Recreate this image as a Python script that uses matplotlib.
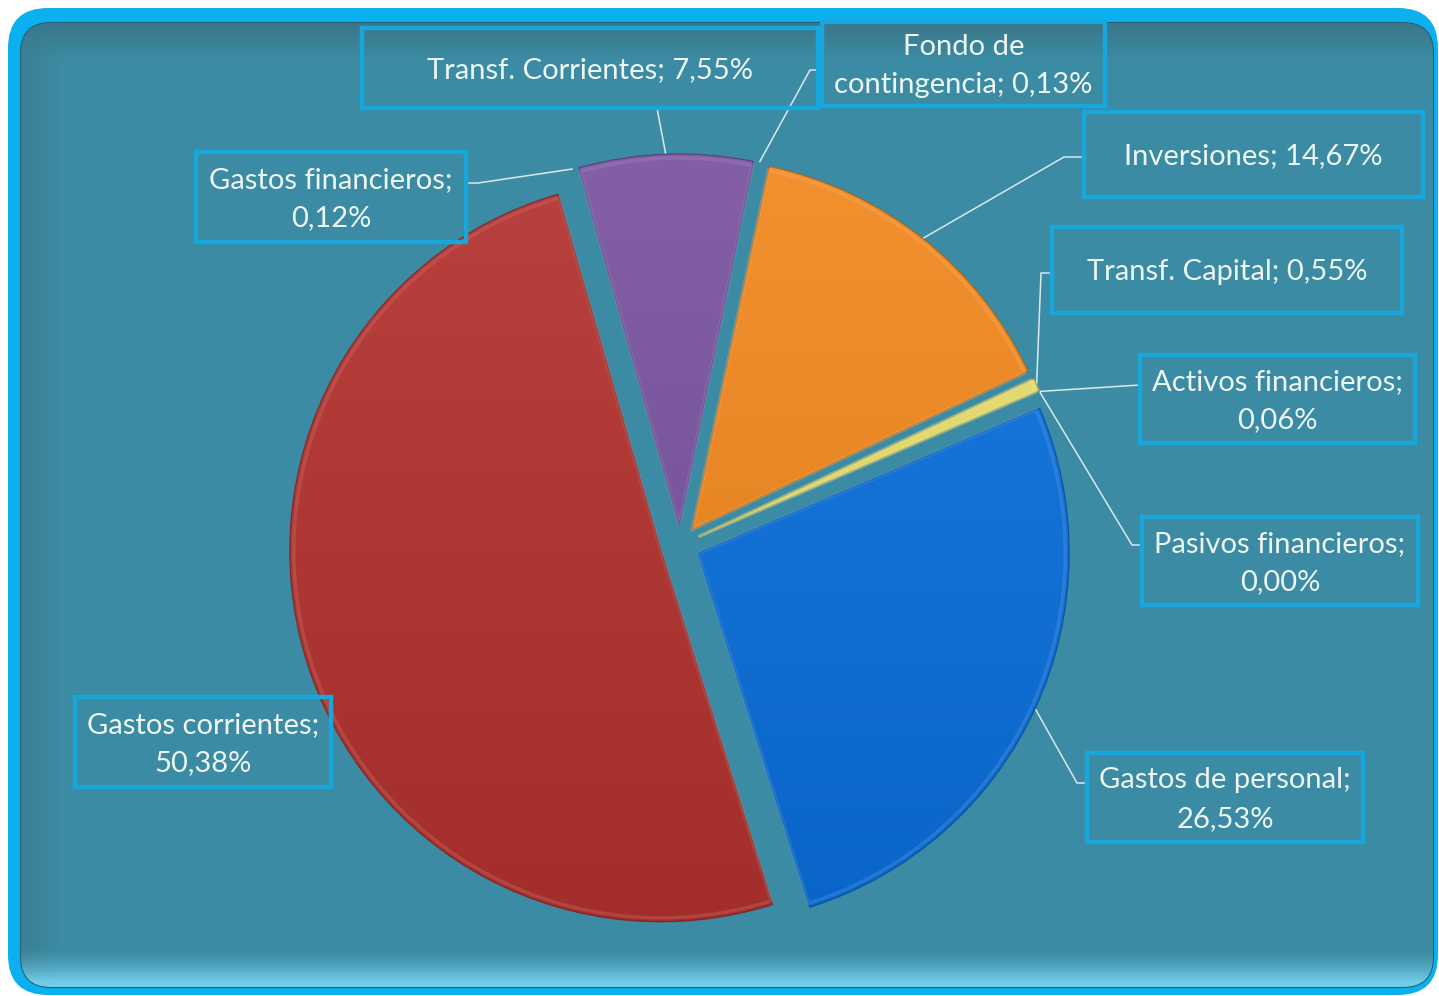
#!usr/bin/env python3

'''
Pie chart of the budget split by chapter (Spanish municipal budget),
drawn on a teal card with cyan rounded border, like the Excel original
'''

import numpy as np
import matplotlib
matplotlib.use('Agg')
import matplotlib.pyplot as plt
from matplotlib.patches import FancyBboxPatch, Wedge
from matplotlib.colors import to_rgb

W, H = 1439, 996

CATEGORIES = ['Gastos de personal', 'Pasivos financieros', 'Activos financieros',
              'Transf. Capital', 'Inversiones', 'Fondo de contingencia',
              'Transf. Corrientes', 'Gastos financieros', 'Gastos corrientes']
VALUES = [26.53, 0.00, 0.06, 0.55, 14.67, 0.13, 7.55, 0.12, 50.38]
# the hair-thin slices don't show in the original, so leave them unfilled
COLORS = ['#0a6fdc', 'none', 'none', '#e8de6c', '#f2881f',
          'none', '#7a53a1', 'none', '#b3322f']

# label layout in pixel coords: box (x0, y0, x1, y1), where to break the
# text, point on the box where the leader starts, optional elbow
LAYOUT = {
    'Transf. Corrientes': ((362, 28, 818, 108), None, (657, 108), None),
    'Fondo de contingencia': ((822, 22, 1105, 106), 'Fondo de', (822, 70), (810, 70)),
    'Inversiones': ((1084, 112, 1423, 197), None, (1084, 157), (1064, 157)),
    'Transf. Capital': ((1052, 227, 1402, 313), None, (1052, 273), (1041, 273)),
    'Activos financieros': ((1140, 355, 1415, 443), ';', (1140, 385), None),
    'Pasivos financieros': ((1142, 517, 1418, 605), ';', (1142, 545), (1132, 545)),
    'Gastos de personal': ((1087, 753, 1363, 842), ';', (1087, 783), (1077, 783)),
    'Gastos corrientes': ((75, 697, 331, 787), ';', None, None),
    'Gastos financieros': ((196, 152, 466, 242), ';', (466, 183), (478, 183)),
}

PIE_CENTER = (680, 545)
RADIUS = 371
START = -72.5
FONT = 'Lato'
TEXT_COLOR = '#eef6f3'


def dy(y):
    '''pixel row -> data y (axes run upwards)'''
    return H - y


def blend(c, other, t):
    c = np.array(to_rgb(c))
    return c + (np.array(to_rgb(other)) - c) * t


def draw_card(ax):
    '''the cyan rounded frame and the shaded teal panel inside it'''
    outer = FancyBboxPatch((8, dy(995)), 1430, 987,
                           boxstyle='round,pad=0,rounding_size=40',
                           fc='#0cb0ee', ec='none', zorder=0)
    ax.add_patch(outer)
    x0, x1, y0, y1 = 21, 1433, 23, 987
    inner = FancyBboxPatch((x0, dy(y1)), x1 - x0, y1 - y0,
                           boxstyle='round,pad=0,rounding_size=30',
                           fc='#3a8ba3', ec='#23607a', lw=1.5, zorder=1)
    ax.add_patch(inner)
    # vertical/horizontal shading of the panel
    rows, cols = y1 - y0, x1 - x0
    img = np.ones((rows, cols, 3)) * np.array(to_rgb('#3a8ba3'))
    yy = np.arange(rows)[:, None]
    xx = np.arange(cols)[None, :]
    top = np.clip(1 - yy / 35.0, 0, 1)[..., None]
    img = img + (np.array(to_rgb('#3c7486')) - img) * top * 0.9
    left = np.clip(1 - xx / 40.0, 0, 1)[..., None]
    img = img + (np.array(to_rgb('#3b7a8e')) - img) * left * 0.6
    bot = np.clip((yy - (rows - 40)) / 34.0, 0, 1)[..., None]
    img = img + (np.array(to_rgb('#72cce6')) - img) * bot ** 1.5
    im = ax.imshow(img, extent=(x0, x1, dy(y1), dy(y0)), origin='upper',
                   zorder=1.5, interpolation='bilinear')
    im.set_clip_path(inner)


def draw_pie(ax):
    explode = [0.054 * RADIUS] * len(VALUES)
    wedges, _ = ax.pie(VALUES, colors=COLORS, startangle=START,
                       counterclock=True, radius=RADIUS, explode=explode,
                       center=(PIE_CENTER[0], dy(PIE_CENTER[1])),
                       wedgeprops=dict(linewidth=0), frame=True)
    for w, col in zip(wedges, COLORS):
        w.set_zorder(3)
        if col == 'none':
            continue
        cx, cy = w.center
        # soft top-to-bottom gradient, clipped to the slice
        n = 200
        t = np.linspace(0, 1, n)[:, None]
        light = blend(col, 'white', 0.07)
        dark = blend(col, 'black', 0.09)
        grad = light + (dark - light) * t
        grad = np.repeat(grad[:, None, :], 2, axis=1)
        im = ax.imshow(grad, extent=(cx - RADIUS, cx + RADIUS,
                                     cy - RADIUS, cy + RADIUS),
                       origin='upper', zorder=3, interpolation='bilinear',
                       aspect='auto')
        im.set_clip_path(w)
        edge = Wedge((cx, cy), RADIUS, w.theta1, w.theta2, fill=False,
                     ec=blend(col, 'black', 0.3), lw=0.9, alpha=0.8, zorder=4)
        ax.add_patch(edge)
        hi = Wedge((cx, cy), RADIUS - 4, w.theta1, w.theta2, fill=False,
                   ec=blend(col, 'white', 0.3), lw=2.5, alpha=0.35, zorder=4)
        ax.add_patch(hi)
    return wedges


def draw_labels(ax, wedges):
    for name, val, w in zip(CATEGORIES, VALUES, wedges):
        box, brk, attach, elbow = LAYOUT[name]
        pct = f'{val:.2f}'.replace('.', ',') + '%'
        text = f'{name}; {pct}'
        if brk == ';':
            text = f'{name};\n{pct}'
        elif brk:
            text = text.replace(brk + ' ', brk + '\n', 1)
        x0, y0, x1, y1 = box
        rect = plt.Rectangle((x0, dy(y1)), x1 - x0, y1 - y0, fill=False,
                             ec='#17a7dd', lw=3.2, zorder=6)
        ax.add_patch(rect)
        ax.text((x0 + x1) / 2, dy((y0 + y1) / 2 + 2), text, ha='center',
                va='center', fontsize=21, family=FONT, color=TEXT_COLOR,
                linespacing=1.58, zorder=7)
        if attach is None:
            continue
        tm = np.radians((w.theta1 + w.theta2) / 2)
        ax_, ay_ = (w.center[0] + RADIUS * np.cos(tm),
                    w.center[1] + RADIUS * np.sin(tm))
        pts = [attach] + ([elbow] if elbow else [])
        xs = [p[0] for p in pts] + [ax_]
        ys = [dy(p[1]) for p in pts] + [ay_]
        ax.plot(xs, ys, color='#d9e9ee', lw=1.1, zorder=2.5,
                solid_capstyle='butt')


def main():
    fig = plt.figure(figsize=(W / 100, H / 100), dpi=100, facecolor='white')
    ax = fig.add_axes([0, 0, 1, 1])
    draw_card(ax)
    wedges = draw_pie(ax)
    draw_labels(ax, wedges)
    ax.set_xlim(0, W)
    ax.set_ylim(0, H)
    ax.set_aspect('auto')
    ax.axis('off')
    fig.savefig('out.png', dpi=100, facecolor='white')


if __name__ == '__main__':
    main()
